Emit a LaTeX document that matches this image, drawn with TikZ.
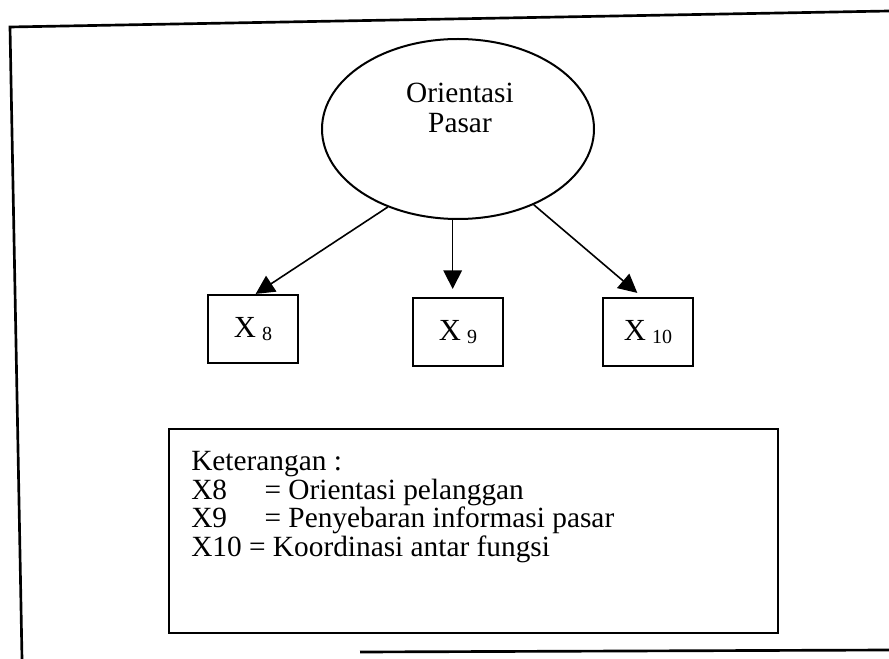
\documentclass[tikz,border=0pt]{standalone}
\usepackage{fontspec}
\setmainfont{Liberation Serif}
\usetikzlibrary{arrows.meta,shapes.geometric}
\newcommand\xsub[1]{X\hspace{0.2em}\raisebox{-2pt}{\fontsize{15}{15}\selectfont #1}}
\begin{document}
\begin{tikzpicture}[x=0.75pt,y=-0.75pt,
  frameline/.style={line width=2pt},
  indbox/.style={draw, line width=1.6pt, minimum width=67pt, minimum height=51pt,
    inner sep=0pt, font=\fontsize{23}{25}\selectfont},
  arr/.style={line width=1.2pt, -{Triangle[length=14pt,width=14pt]}},
]
\useasboundingbox (0,0) rectangle (889,659);
% outer frame (partially visible)
\draw[frameline] (889,11) -- (10,27) -- (22,659);
\draw[frameline] (360,652) -- (889,650);
% latent variable
\node[draw, ellipse, line width=1.5pt, minimum width=204pt, minimum height=135pt] (el) at (458,129) {};
\node[font=\fontsize{22}{23}\selectfont, align=center, inner sep=0pt] (eltext) at (460,108) {Orientasi\\Pasar};
% indicators
\node[indbox] (x8) at (253,329) {\xsub{8}};
\node[indbox] (x9) at (458,332) {\xsub{9}};
\node[indbox] (x10) at (648,332) {\xsub{10}};
% arrows
\draw[arr] (el.228) -- ([xshift=2pt]x8.north);
\draw[arr] ([xshift=-4pt]el.south) -- ([xshift=-4pt,yshift=6pt]x9.north);
\draw[arr] (el.-45) -- ([xshift=-8pt,yshift=3pt]x10.north);
% legend
\node[draw, line width=1.6pt, minimum width=456.75pt, minimum height=153pt,
  anchor=north west, inner sep=0pt] (leg) at (168,428) {};
\node[anchor=north west, align=left, inner sep=0pt,
  font=\fontsize{22}{21.5}\selectfont] (legtext) at (191,451)
  {Keterangan :\\
   \makebox[2.5em][l]{X8}= Orientasi pelanggan\\
   \makebox[2.5em][l]{X9}= Penyebaran informasi pasar\\
   X10 = Koordinasi antar fungsi};
\end{tikzpicture}
\end{document}
